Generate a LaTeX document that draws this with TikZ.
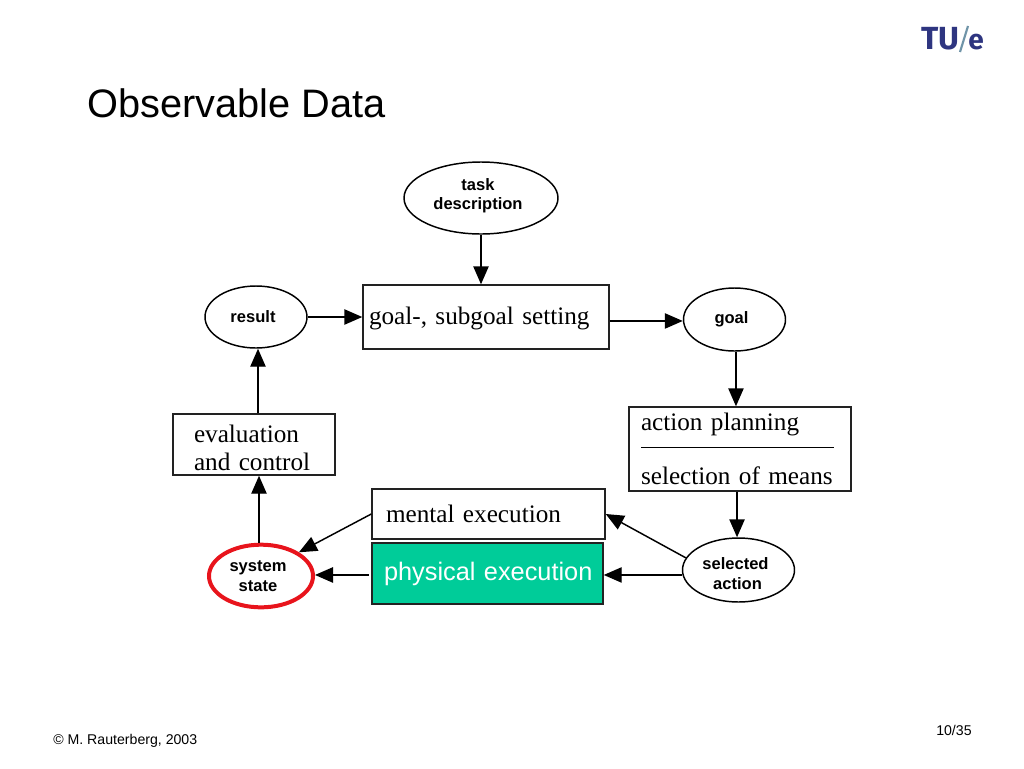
\documentclass[tikz,border=0pt]{standalone}
\usepackage{fontspec}
\setmainfont{Liberation Serif}
\setsansfont{Liberation Sans}
\newfontfamily\logofont{Fira Sans}
\usetikzlibrary{arrows.meta,shapes.geometric,calc}
\definecolor{boxline}{HTML}{222222}
\definecolor{mygreen}{HTML}{00CC99}
\definecolor{myred}{HTML}{E8141C}
\definecolor{logoblue}{HTML}{2E3580}
\definecolor{logoslash}{HTML}{6F94A8}
\newcommand{\lsh}{\kern4.5pt}
\tikzset{
  oval/.style={ellipse,draw=black,line width=1.1pt,inner sep=0pt,align=center,font=\sffamily\bfseries\fontsize{12.4}{15}\selectfont},
  plainbox/.style={rectangle,draw=boxline,line width=1.1pt,inner ysep=0pt,align=left,font=\fontsize{18.9}{21}\selectfont},
  conn/.style={line width=1.1pt,-{Triangle[length=13.5pt,width=11.5pt]}},
  free/.style={inner sep=0pt,font=\sffamily}
}
\begin{document}
\begin{tikzpicture}[x=0.75pt,y=-0.75pt]
\useasboundingbox (0,0) rectangle (1024,768);
\fill[white] (0,0) rectangle (1024,768);
% title and footer
\node[free,anchor=base west,font=\sffamily\fontsize{29.8}{32}\selectfont] (title) at (87,117) {Observable Data};
\node[free,anchor=base west,font=\sffamily\fontsize{10.6}{12}\selectfont] (copy) at (53,744) {© M. Rauterberg, 2003};
\node[free,anchor=base west,font=\sffamily\fontsize{10.6}{12}\selectfont] (page) at (936,735) {10/35};
% logo
\node[free,anchor=base west,text=logoblue,font=\logofont\bfseries\fontsize{24}{24}\selectfont] (tu) at (921,49) {TU};
\node[free,anchor=base west,text=logoblue,font=\logofont\bfseries\fontsize{21}{24}\selectfont] (e) at (968,49) {e};
\draw[logoslash,line width=1.6pt] (960,52) -- (968,26);
% nodes
\node[oval,minimum width=115.5pt,minimum height=54pt] (task) at (481,198) {task\lsh\\[-0.4pt]description\lsh\rule[-5.6pt]{0pt}{0pt}};
\node[oval,minimum width=76.5pt,minimum height=46.5pt] (result) at (256,317) {result\lsh};
\node[oval,minimum width=76.5pt,minimum height=47.25pt] (goal) at (734.5,319.5) {goal\lsh};
\node[oval,minimum width=84pt,minimum height=48pt] (sel) at (738.5,570) {selected\lsh\rule{0pt}{15pt}\\action\kern1.5pt};
\node[oval,draw=myred,line width=3pt,minimum width=78pt,minimum height=47pt] (sys) at (261,576) {system\lsh\\state\lsh};
\node[plainbox,minimum width=184.5pt,minimum height=48pt,text width=175.5pt,inner xsep=4.5pt] (setting) at (486,317) {\rule{0pt}{15pt}goal-, subgoal setting};
\node[plainbox,minimum width=121.5pt,minimum height=45.75pt,text width=90pt,inner xsep=15.75pt] (eval) at (254,444.5) {\rule{0pt}{17.5pt}evaluation\\and control};
\node[plainbox,minimum width=166.5pt,minimum height=63pt,text width=148.5pt,inner xsep=9pt] (plan) at (740,449) {action planning\\[19.5pt]selection of means};
\node[plainbox,minimum width=174.75pt,minimum height=37.5pt,text width=153.75pt,inner xsep=10.5pt] (mental) at (488.5,514) {mental execution};
\node[plainbox,fill=mygreen,minimum width=173.25pt,minimum height=45.75pt,text width=155.25pt,inner xsep=9pt,text=white,font=\sffamily\fontsize{19}{22}\selectfont] (phys) at (487.5,573.5) {\mbox{physical execution}};
% rule inside the planning box
\draw[black,line width=0.75pt] (641,447) -- (834,447);
% connectors
\draw[conn] (task.south) -- (task.south |- setting.north);
\draw[conn] (result.east) -- (result.east -| setting.west);
\draw[conn] ([yshift=-1.1pt]setting.east |- goal.west) -- ([yshift=-1.1pt]goal.west);
\draw[conn] ([xshift=1.1pt]goal.south) -- ([xshift=1.1pt]goal.south |- plan.north);
\draw[conn] ([xshift=-1.1pt]sel.north |- plan.south) -- ([xshift=-1.1pt]sel.north);
\draw[conn] (sel.167) -- (mental.east);
\draw[conn] ([yshift=-1.1pt]sel.west |- phys.east) -- ([yshift=-1.1pt]phys.east);
\draw[conn] ([xshift=-2pt,yshift=-1.1pt]phys.west) -- ([yshift=-1.1pt]phys.west -| sys.east);
\draw[conn] (mental.west) -- (sys.32);
\draw[conn] ([xshift=-1.5pt]sys.north) -- ([xshift=-1.5pt]sys.north |- eval.south);
\draw[conn] ([xshift=3pt]eval.north) -- ([xshift=3pt]eval.north |- result.south);
\end{tikzpicture}
\end{document}
